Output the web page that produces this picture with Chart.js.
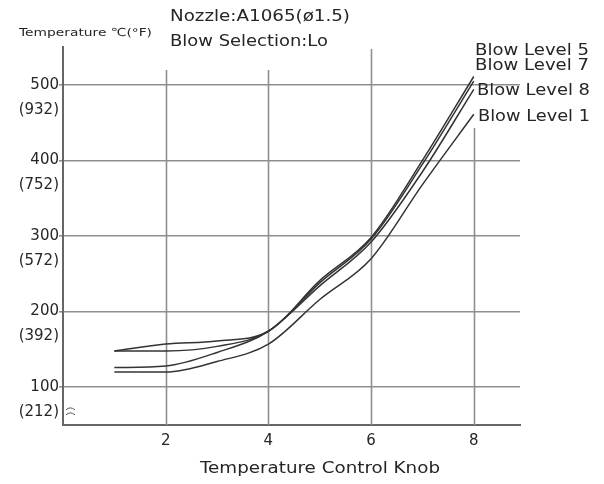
<!DOCTYPE html>
<html><head><meta charset="utf-8">
<script src="https://cdn.jsdelivr.net/npm/chart.js@4.4.1/dist/chart.umd.min.js"></script>
<style>html,body{margin:0;padding:0;background:#fff;}</style>
</head><body>
<canvas id="c" width="604" height="484"></canvas>
<script>
// ---- data ----
const knobPositions = [1, 2, 3, 4, 5, 6, 7, 8];
const seriesNames = ['Blow Level 5', 'Blow Level 7', 'Blow Level 8', 'Blow Level 1'];
const level5 = [148, 157, 161, 174, 241, 298, 400, 511];
const level7 = [148, 148, 154, 174, 238, 296, 395, 505];
const level8 = [126, 128, 146, 174, 234, 292, 385, 494];
const level1 = [120, 120, 134, 157, 216, 270, 368, 461];
const xTickValues = [2, 4, 6, 8];
const yTickValues = [100, 200, 300, 400, 500];
const yTickFahrenheit = ['(212)', '(392)', '(572)', '(752)', '(932)'];
const yAxisTitle = 'Temperature \u2103(\u00b0F)';
const xAxisTitle = 'Temperature Control Knob';
const noteLines = ['Nozzle:A1065(\u00f81.5)', 'Blow Selection:Lo'];

const FONT = '"DejaVu Sans", "Liberation Sans", sans-serif';
const INK = '#262626';
const GRID = '#8f8f8f';

function drawStretched(ctx, text, x, y, size, width) {
  ctx.font = size + 'px ' + FONT;
  ctx.textBaseline = 'middle';
  ctx.textAlign = 'left';
  const w = ctx.measureText(text).width;
  ctx.save();
  ctx.translate(x, y);
  ctx.scale(width / w, 1);
  ctx.fillText(text, 0, 0);
  ctx.restore();
}

const annotations = {
  id: 'annotations',
  beforeDatasetsDraw(chart, args, opts) {
    const ctx = chart.ctx, xs = chart.scales.x, area = chart.chartArea;
    ctx.save();
    ctx.strokeStyle = GRID;
    ctx.lineWidth = 1.6;
    xTickValues.forEach((v, i) => {
      const px = Math.round(xs.getPixelForValue(v)) + 0.5;
      ctx.beginPath();
      ctx.moveTo(px, opts.gridTops[i]);
      ctx.lineTo(px, area.bottom);
      ctx.stroke();
    });
    ctx.restore();
  },
  afterDraw(chart, args, opts) {
    const ctx = chart.ctx;
    ctx.save();
    ctx.fillStyle = INK;
    opts.texts.forEach(t => drawStretched(ctx, t.text, t.x, t.y, t.size, t.width));
    chart.data.datasets.forEach((ds, i) => {
      const lab = opts.seriesLabels[i];
      drawStretched(ctx, ds.label, lab.x, lab.y, lab.size, lab.width);
    });
    const ys = chart.scales.y;
    const bx = chart.chartArea.left + 3, by = ys.getPixelForValue(70);
    ctx.strokeStyle = '#555'; ctx.lineWidth = 1;
    [0, 5].forEach(d => {
      ctx.beginPath();
      ctx.moveTo(bx, by + d);
      ctx.quadraticCurveTo(bx + 4, by - 4 + d, bx + 9, by + d);
      ctx.stroke();
    });
    ctx.restore();
  }
};

new Chart(document.getElementById('c'), {
  type: 'line',
  data: {
    labels: knobPositions,
    datasets: [level5, level7, level8, level1].map((vals, i) => ({
      label: seriesNames[i],
      data: vals,
      borderColor: '#333',
      borderWidth: 1.5,
      pointRadius: 0,
      fill: false,
      cubicInterpolationMode: 'monotone'
    }))
  },
  options: {
    responsive: false,
    animation: false,
    layout: { padding: { top: 47, right: 84, left: 0, bottom: 0 } },
    plugins: {
      legend: { display: false },
      tooltip: { enabled: false },
      annotations: {
        gridTops: [70, 70, 49, 128],
        texts: [
          { text: yAxisTitle, x: 19, y: 33, size: 11, width: 133 },
          { text: noteLines[0], x: 170, y: 17, size: 15, width: 180 },
          { text: noteLines[1], x: 170, y: 42, size: 15, width: 158 },
          { text: xAxisTitle, x: 200, y: 469, size: 15, width: 240 }
        ],
        seriesLabels: [
          { x: 475, y: 51, size: 15, width: 114 },
          { x: 475, y: 66, size: 15, width: 114 },
          { x: 477, y: 91, size: 15, width: 113 },
          { x: 478, y: 117, size: 15, width: 112 }
        ]
      }
    },
    scales: {
      x: {
        type: 'linear',
        min: 0,
        max: 8.9,
        afterFit: s => { s.height = 59; },
        afterBuildTicks: s => { s.ticks = xTickValues.map(v => ({ value: v })); },
        grid: { display: false, drawTicks: false },
        border: { color: '#666', width: 2 },
        ticks: { color: INK, font: { family: FONT, size: 15 }, padding: 7 }
      },
      y: {
        type: 'linear',
        min: 50,
        max: 550,
        afterFit: s => { s.width = 63; },
        afterBuildTicks: s => { s.ticks = yTickValues.map(v => ({ value: v })); },
        grid: { color: GRID, lineWidth: 1.6, tickLength: 4 },
        border: { color: '#666', width: 2 },
        ticks: {
          color: INK,
          font: { family: FONT, size: 15, lineHeight: 1.667 },
          padding: 0,
          labelOffset: 12.5,
          callback: (v, i) => [String(v), yTickFahrenheit[i]]
        }
      }
    }
  },
  plugins: [annotations]
});
</script>
</body></html>
